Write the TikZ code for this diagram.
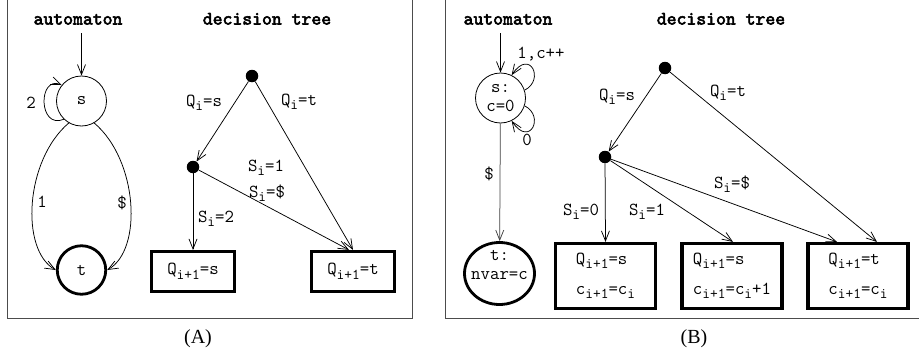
\documentclass[tikz,border=0pt]{standalone}
\usepackage{fontspec}
\setmainfont{Liberation Serif}
\newfontfamily\ttbold[Extension=.otf, FakeBold=3]{lmmono10-regular}
\usetikzlibrary{arrows.meta,shapes.geometric}
\newcommand\dsub[1]{\raisebox{-4.5pt}{\fontsize{15}{15}\selectfont #1}}
\begin{document}
\begin{tikzpicture}[x=1pt,y=-1pt,
  every node/.style={font=\fontsize{18.3}{19}\selectfont\ttfamily, inner sep=0pt},
  lab/.style={anchor=base},
  ttl/.style={anchor=base, font=\fontsize{18.8}{19}\selectfont\ttbold},
  capt/.style={anchor=base, font=\fontsize{20}{22}\selectfont\rmfamily},
  arr/.style={-{Straight Barb[length=10pt,width=8pt]}, line width=0.75pt},
  dot/.style={circle, fill, minimum size=12.5pt},
  st/.style={circle, draw, line width=0.8pt, minimum size=50pt},
  fin/.style={circle, draw, line width=2.8pt, minimum size=48.5pt},
  finB/.style={ellipse, draw, line width=2.8pt, minimum width=70pt, minimum height=62pt},
  leafA/.style={draw, line width=3.2pt, minimum width=83pt, minimum height=40pt},
  leafB/.style={draw, line width=3.2pt, minimum width=100pt, minimum height=65pt, align=left},
  panel/.style={draw=black!70, line width=0.8pt}
]
\useasboundingbox (0,0) rectangle (919,356);
\clip (0,0) rectangle (919,356);
% frames
\draw[panel] (7,-5) rectangle (412,318);
\draw[panel] (445,-5) rectangle (930,318);
\node[capt] at (198,343) {(A)};
\node[capt] at (694,343) {(B)};

% ---------------- Panel A ----------------
\node[ttl] at (78,24.5) {automaton};
\node[ttl] at (267,24.5) {decision tree};

\coordinate (inA) at (81.5,33);
\node[st] (sA) at (81.5,101) {s};
\node[fin] (tA) at (81.5,270) {t};
\draw[arr] (inA) -- (sA);
\draw[arr] (sA.226) .. controls (38,130) and (38,75) .. (sA.141);
\node[lab] at (31,108.5) {2};
\draw[arr] (sA.240) .. controls (25,160) and (20,250) .. (tA.180);
\draw[arr] (sA.300) .. controls (138,160) and (143,250) .. (tA.0);
\node[lab] at (42,207.5) {1};
\node[lab] at (122,208.5) {\$};

\node[dot] (rA) at (252,76) {};
\node[dot] (mA) at (193,167) {};
\node[leafA] (lAs) at (193,271.5) {Q\dsub{i+1}=s};
\node[leafA] (lAt) at (353,271.5) {Q\dsub{i+1}=t};
\draw[arr] (rA) -- (mA);
\draw[arr] (rA) -- (lAt.north);
\draw[arr] (mA) -- ([xshift=-4pt]lAt.north);
\draw[arr] (mA) -- (lAs.north);
\node[lab] at (204,106) {Q\dsub{i}=s};
\node[lab] at (299,105) {Q\dsub{i}=t};
\node[lab] at (266,171) {S\dsub{i}=1};
\node[lab] at (267,197) {S\dsub{i}=\$};
\node[lab] at (216,222) {S\dsub{i}=2};

% ---------------- Panel B ----------------
\node[ttl] at (508,24.5) {automaton};
\node[ttl] at (721,24.5) {decision tree};

\coordinate (inB) at (500.5,33);
\node[st, align=center] (sB) at (500.5,98) {s:\\c=0};
\node[finB, label={[align=center, yshift=9pt]center:{t:\\nvar=c}}] (tB) at (499.5,273.5) {};
\draw[arr] (inB) -- (sB);
\draw[arr] (sB.18) .. controls (545,80) and (530,48) .. (sB.64);
\draw[arr] (sB.-18) .. controls (545,116) and (530,148) .. (sB.-64);
\node[lab] at (541,58) {1,c++};
\node[lab] at (527,145.5) {0};
\draw[arr, draw=black!75] (sB) -- (tB);
\node[lab] at (489,179) {\$};

\node[dot] (rB) at (665,68) {};
\node[dot] (mB) at (605,157) {};
\node[leafB] (l1) at (605.5,276) {Q\dsub{i+1}=s\\[11pt]c\dsub{i+1}=c\dsub{i}};
\node[leafB] (l2) at (732,276) {Q\dsub{i+1}=s\\[11pt]c\dsub{i+1}=c\dsub{i}+1};
\node[leafB] (l3) at (858,276) {Q\dsub{i+1}=t\\[11pt]c\dsub{i+1}=c\dsub{i}};
\draw[arr] (rB) -- (mB);
\draw[arr] (rB) -- ([xshift=19pt]l3.north);
\draw[arr] (mB) -- (l1.north);
\draw[arr] (mB) -- ([xshift=1pt]l2.north);
\draw[arr] (mB) -- ([xshift=-21pt]l3.north);
\node[lab] at (617,100) {Q\dsub{i}=s};
\node[lab] at (728,96) {Q\dsub{i}=t};
\node[lab] at (732,188) {S\dsub{i}=\$};
\node[lab] at (581,215) {S\dsub{i}=0};
\node[lab] at (647,215) {S\dsub{i}=1};
\end{tikzpicture}
\end{document}
